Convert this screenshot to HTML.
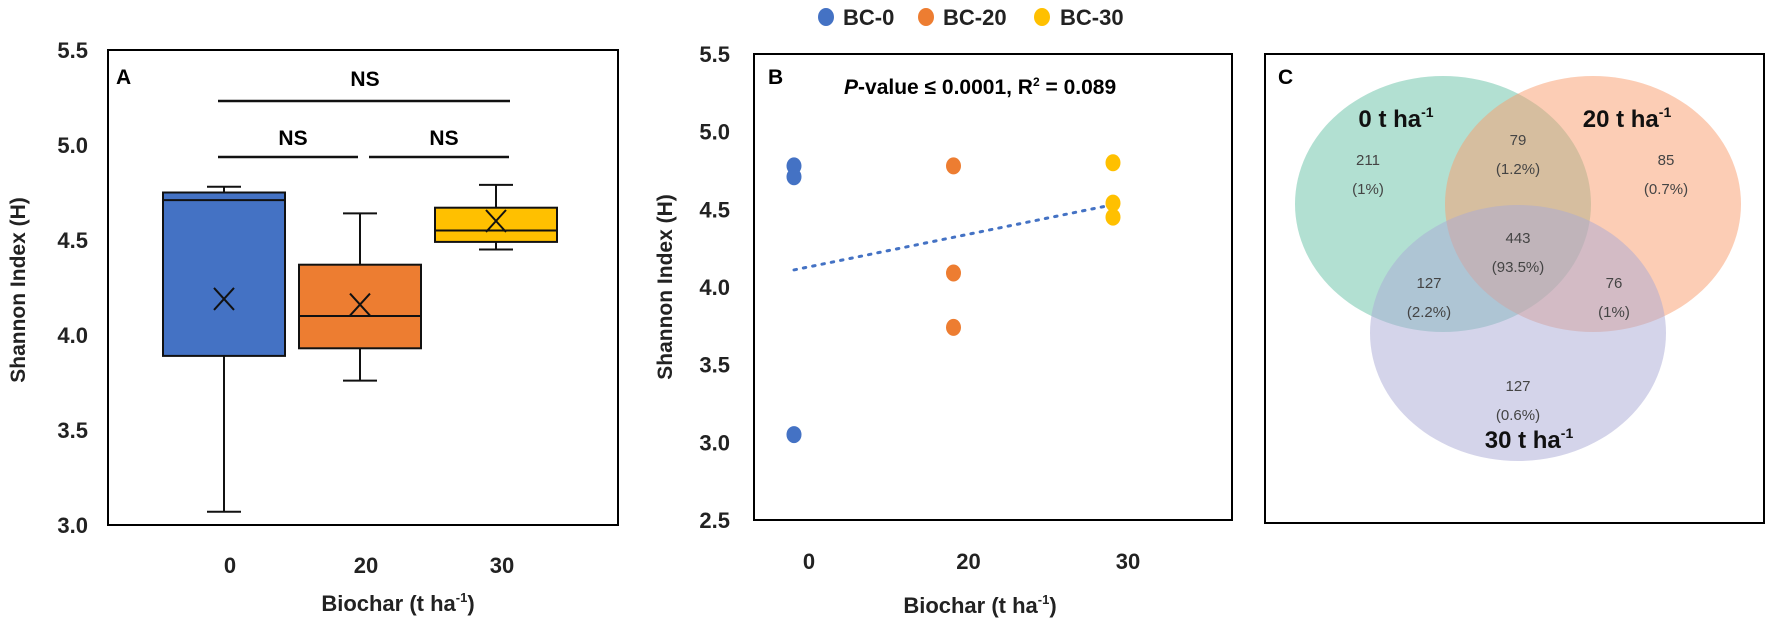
<!DOCTYPE html>
<html><head><meta charset="utf-8">
<style>
html,body{margin:0;padding:0;background:#fff;}
svg{display:block;font-family:"Liberation Sans",Arial,sans-serif;}
.b{font-weight:bold;}
</style></head>
<body>
<svg id="fig" width="1772" height="624" viewBox="0 0 1772 624" xmlns="http://www.w3.org/2000/svg">
<g id="pa"></g>
<g id="pb"></g>
<g id="pc"></g>
</svg>
<script>
// ---------- Panel A data ----------
const aCategories = ["0","20","30"];
const aColors = ["#4472c4","#ed7d31","#ffc000"];
const aWhiskerLow = [3.07, 3.76, 4.45];
const aQ1 = [3.89, 3.93, 4.49];
const aMedian = [4.71, 4.10, 4.55];
const aQ3 = [4.75, 4.37, 4.67];
const aWhiskerHigh = [4.78, 4.64, 4.79];
const aMean = [4.19, 4.16, 4.60];
const aTicks = ["3.0","3.5","4.0","4.5","5.0","5.5"];
// ---------- Panel B data ----------
const bCategories = ["0","20","30"];
const bSeriesNames = ["BC-0","BC-20","BC-30"];
const bColors = ["#4472c4","#ed7d31","#ffc000"];
const bPoints0 = [4.78, 4.71, 3.05];
const bPoints20 = [4.78, 4.09, 3.74];
const bPoints30 = [4.80, 4.54, 4.45];
const bTrend = [4.11, 4.53];
const bTicks = ["2.5","3.0","3.5","4.0","4.5","5.0","5.5"];
// ---------- Panel C data ----------
const cSetLabels = ["0 t ha","20 t ha","30 t ha"];
const cRegionCounts = ["211","79","85","443","127","76","127"];
const cRegionPcts = ["(1%)","(1.2%)","(0.7%)","(93.5%)","(2.2%)","(1%)","(0.6%)"];

const NS="http://www.w3.org/2000/svg";
function mk(parent,tag,attrs,text){const e=document.createElementNS(NS,tag);for(const k in attrs)e.setAttribute(k,attrs[k]);if(text!==undefined)e.textContent=text;parent.appendChild(e);return e;}

// ===== Panel A =====
const pa=document.getElementById('pa');
const aTop=50,aBot=525,aMin=3.0,aMax=5.5;
const ay=v=>aBot-(v-aMin)/(aMax-aMin)*(aBot-aTop);
const ax=i=>224+i*136;
let e=mk(pa,'rect',{x:108,y:aTop,width:510,height:aBot-aTop,fill:'none',stroke:'#000','stroke-width':2});


aTicks.forEach(t=>{const el=mk(pa,'text',{x:88,y:ay(parseFloat(t))+8,'text-anchor':'end','font-size':22,class:'b',fill:'#222'},t);

});
e=mk(pa,'text',{transform:'translate(25,290) rotate(-90)','text-anchor':'middle','font-size':21,class:'b',fill:'#222'},'Shannon Index (H)');


e=mk(pa,'text',{x:116,y:84,'font-size':21,class:'b'},'A');


aCategories.forEach((c,i)=>{
 const cx=ax(i),hw=61;
 const g=mk(pa,'g',{});
 
 
 mk(g,'line',{x1:cx,x2:cx,y1:ay(aWhiskerLow[i]),y2:ay(aQ1[i]),stroke:'#111','stroke-width':2});
 mk(g,'line',{x1:cx,x2:cx,y1:ay(aWhiskerHigh[i]),y2:ay(aQ3[i]),stroke:'#111','stroke-width':2});
 mk(g,'line',{x1:cx-17,x2:cx+17,y1:ay(aWhiskerLow[i]),y2:ay(aWhiskerLow[i]),stroke:'#111','stroke-width':2});
 mk(g,'line',{x1:cx-17,x2:cx+17,y1:ay(aWhiskerHigh[i]),y2:ay(aWhiskerHigh[i]),stroke:'#111','stroke-width':2});
 mk(g,'rect',{x:cx-hw,y:ay(aQ3[i]),width:hw*2,height:ay(aQ1[i])-ay(aQ3[i]),fill:aColors[i],stroke:'#111','stroke-width':2});
 mk(g,'line',{x1:cx-hw,x2:cx+hw,y1:ay(aMedian[i]),y2:ay(aMedian[i]),stroke:'#111','stroke-width':2});
 const my=ay(aMean[i]);
 mk(g,'path',{d:`M${cx-10},${my-11}L${cx+10},${my+11}M${cx+10},${my-11}L${cx-10},${my+11}`,stroke:'#111','stroke-width':2});
 const t=mk(pa,'text',{x:cx+6,y:573,'text-anchor':'middle','font-size':22,class:'b',fill:'#222'},c);
 
 
});
e=mk(pa,'text',{x:398,y:611,'text-anchor':'middle','font-size':22,class:'b',fill:'#222'});
e.innerHTML='Biochar (t ha<tspan dy="-9" font-size="13">-1</tspan><tspan dy="9">)</tspan>';


// significance brackets
[[218,510,101,365,86],[218,358,157,293,145],[369,509,157,444,145]].forEach(b=>{
 const g=mk(pa,'g',{});
 
 
 mk(g,'line',{x1:b[0],x2:b[1],y1:b[2],y2:b[2],stroke:'#111','stroke-width':2.5});
 mk(g,'text',{x:b[3],y:b[4],'text-anchor':'middle','font-size':21,class:'b'},'NS');
});

// ===== Panel B =====
const pb=document.getElementById('pb');
const bTop=54,bBot=520,bMin=2.5,bMax=5.5;
const by=v=>bBot-(v-bMin)/(bMax-bMin)*(bBot-bTop);
const bx=i=>794+i*159.5;
e=mk(pb,'rect',{x:754,y:bTop,width:478,height:bBot-bTop,fill:'none',stroke:'#000','stroke-width':2});


bTicks.forEach(t=>{const el=mk(pb,'text',{x:730,y:by(parseFloat(t))+8,'text-anchor':'end','font-size':22,class:'b',fill:'#222'},t);

});
e=mk(pb,'text',{transform:'translate(672,287) rotate(-90)','text-anchor':'middle','font-size':21,class:'b',fill:'#222'},'Shannon Index (H)');


e=mk(pb,'text',{x:768,y:84,'font-size':21,class:'b'},'B');


e=mk(pb,'text',{x:844,y:94,'font-size':21,class:'b'});
e.innerHTML='<tspan font-style="italic">P</tspan>-value ≤ 0.0001, R<tspan dy="-8" font-size="12">2</tspan><tspan dy="8"> = 0.089</tspan>';


bCategories.forEach((c,i)=>{const t=mk(pb,'text',{x:bx(i)+15,y:569,'text-anchor':'middle','font-size':22,class:'b',fill:'#222'},c);

});
e=mk(pb,'text',{x:980,y:613,'text-anchor':'middle','font-size':22,class:'b',fill:'#222'});
e.innerHTML='Biochar (t ha<tspan dy="-9" font-size="13">-1</tspan><tspan dy="9">)</tspan>';


e=mk(pb,'line',{x1:bx(0),x2:bx(2),y1:by(bTrend[0]),y2:by(bTrend[1]),stroke:'#4472c4','stroke-width':3,'stroke-dasharray':'2.5 7','stroke-linecap':'round'});


[bPoints0,bPoints20,bPoints30].forEach((arr,i)=>{arr.forEach(v=>{
 const c=mk(pb,'ellipse',{cx:bx(i),cy:by(v),rx:7.5,ry:8.5,fill:bColors[i]});
 
 
});});
// legend
[[826,843],[926,943],[1042,1060]].forEach((p,i)=>{
 const g=mk(pb,'g',{});
 
 
 mk(g,'ellipse',{cx:p[0],cy:17,rx:8,ry:9,fill:bColors[i]});
 mk(g,'text',{x:p[1],y:25,'font-size':22,class:'b',fill:'#222'},bSeriesNames[i]);
});

// ===== Panel C =====
const pc=document.getElementById('pc');
e=mk(pc,'rect',{x:1265,y:54,width:499,height:469,fill:'none',stroke:'#000','stroke-width':2});


e=mk(pc,'text',{x:1278,y:84,'font-size':21,class:'b'},'C');


const ellipses=[[1443,204,'#66c2a5','venn-set-0'],[1593,204,'#f99b6c','venn-set-20'],[1518,333,'#aaaad6','venn-set-30']];
ellipses.forEach(el=>{const c=mk(pc,'ellipse',{cx:el[0],cy:el[1],rx:148,ry:128,fill:el[2],'fill-opacity':0.5});

});
[[1396,127],[1627,127],[1529,448]].forEach((p,i)=>{
 const t=mk(pc,'text',{x:p[0],y:p[1],'text-anchor':'middle','font-size':24,class:'b',fill:'#111'});
 t.innerHTML=cSetLabels[i]+'<tspan dy="-10" font-size="14">-1</tspan>';
 
 
});
[[1368,159],[1518,139],[1666,159],[1518,237],[1429,282],[1614,282],[1518,385]].forEach((p,i)=>{
 const g=mk(pc,'g',{});
 
 
 mk(g,'text',{x:p[0],y:p[1]+6,'text-anchor':'middle','font-size':15,fill:'#444'},cRegionCounts[i]);
 mk(g,'text',{x:p[0],y:p[1]+35,'text-anchor':'middle','font-size':15,fill:'#444'},cRegionPcts[i]);
});
</script>
</body></html>
